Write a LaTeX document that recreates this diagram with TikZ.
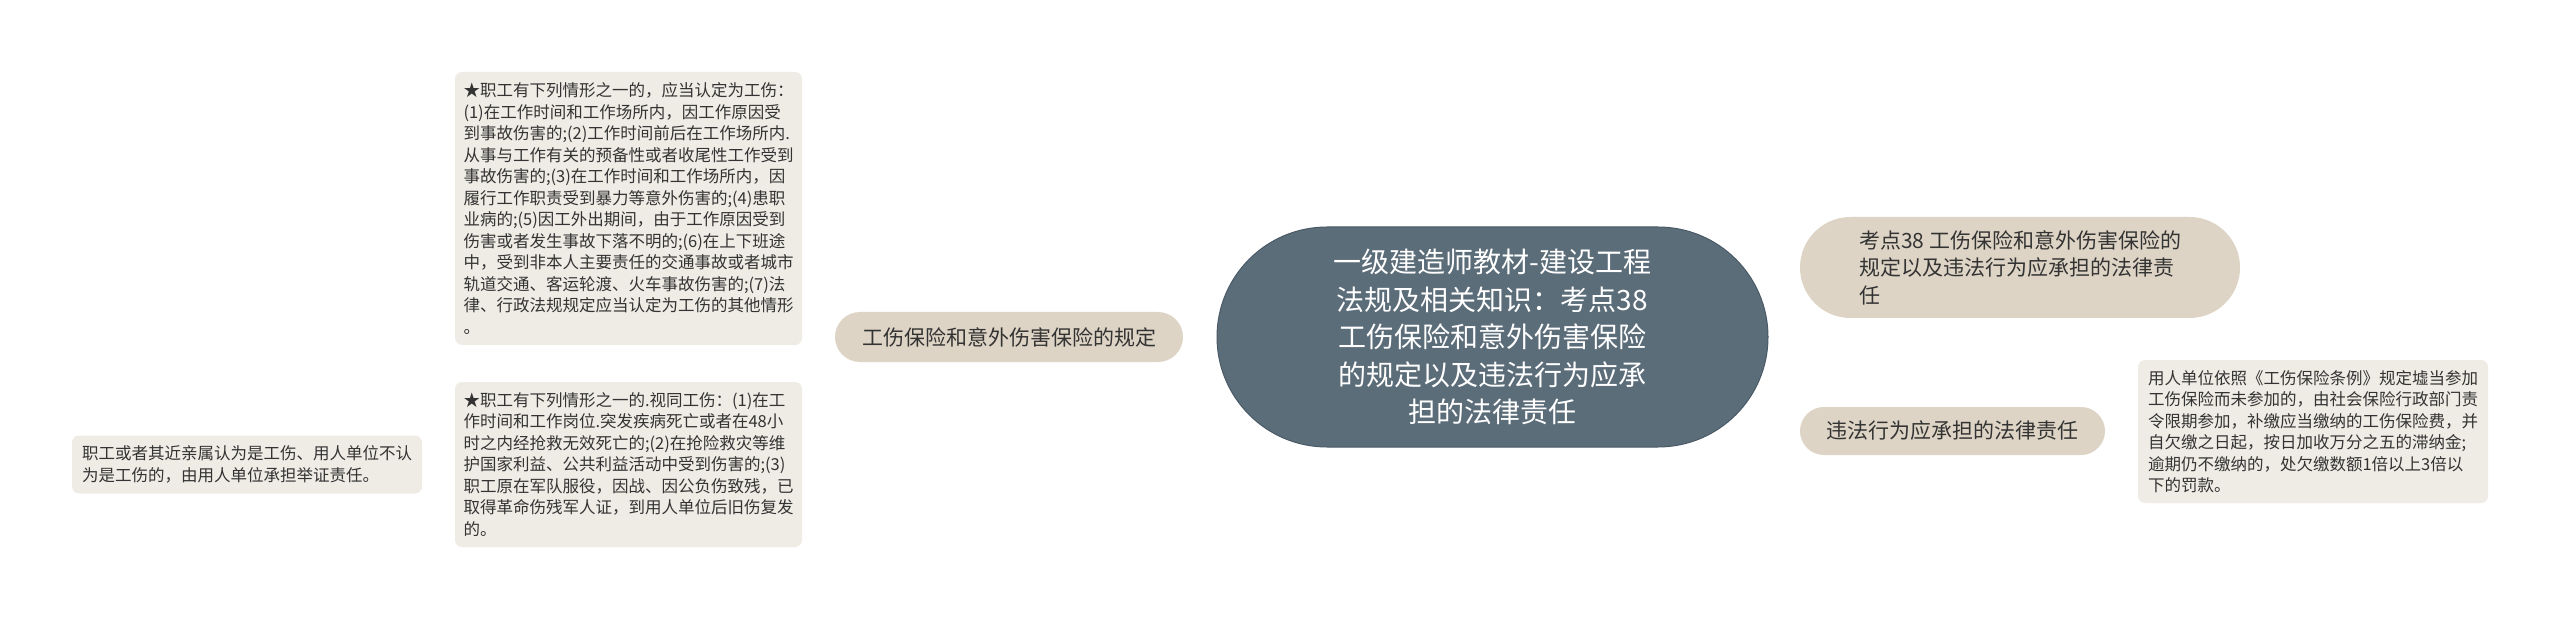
\documentclass[tikz,border=0pt]{standalone}
\usepackage{fontspec}
\setmainfont{Noto Sans CJK SC}
\usetikzlibrary{shapes.misc,backgrounds}
\definecolor{centc}{HTML}{5C6D7A}
\definecolor{centd}{HTML}{4A5966}
\definecolor{branchc}{HTML}{DDD4C5}
\definecolor{leafc}{HTML}{EFECE5}
\definecolor{linec}{HTML}{4E5D6A}
\definecolor{txt}{HTML}{333333}
\begin{document}
\begin{tikzpicture}[x=1pt,y=-1pt,
  leafbox/.style={fill=leafc, rounded corners=7pt, align=left, inner sep=0pt, text=txt,
    font=\fontsize{16.5pt}{21.5pt}\selectfont},
  branchbox/.style={rounded rectangle, fill=branchc, align=left, inner sep=0pt, text=txt,
    font=\fontsize{21pt}{27.5pt}\selectfont},
  centbox/.style={rounded rectangle, fill=centc, draw=centd, line width=1pt, align=center,
    inner sep=0pt, text=white, font=\fontsize{28pt}{37.5pt}\selectfont},
  conn/.style={draw=linec, line width=2.5pt},
  bconn/.style={draw=linec, line width=2.2pt}
]
\useasboundingbox (0,0) rectangle (2560,620);
\fill[white] (0,0) rectangle (2560,620);

\node[centbox, minimum width=551pt, minimum height=220pt] (c) at (1492.5,337)
 {一级建造师教材-建设工程\\法规及相关知识：考点38\\工伤保险和意外伤害保险\\的规定以及违法行为应承\\担的法律责任};

\node[branchbox, minimum width=348pt, minimum height=50pt] (bL) at (1009,337)
 {工伤保险和意外伤害保险的规定};

\node[branchbox, minimum width=440pt, minimum height=101pt] (b1) at (2020,267.5)
 {考点38 工伤保险和意外伤害保险的\\规定以及违法行为应承担的法律责\\任};

\node[branchbox, minimum width=305pt, minimum height=48pt] (b2) at (1952.5,431)
 {违法行为应承担的法律责任};

\node[leafbox, minimum width=347pt, minimum height=273pt] (l1) at (628.5,208.5)
 {★职工有下列情形之一的，应当认定为工伤：\\
(1)在工作时间和工作场所内，因工作原因受\\
到事故伤害的;(2)工作时间前后在工作场所内.\\
从事与工作有关的预备性或者收尾性工作受到\\
事故伤害的;(3)在工作时间和工作场所内，因\\
履行工作职责受到暴力等意外伤害的;(4)患职\\
业病的;(5)因工外出期间，由于工作原因受到\\
伤害或者发生事故下落不明的;(6)在上下班途\\
中，受到非本人主要责任的交通事故或者城市\\
轨道交通、客运轮渡、火车事故伤害的;(7)法\\
律、行政法规规定应当认定为工伤的其他情形\\
。};

\node[leafbox, minimum width=347pt, minimum height=165pt] (l2) at (628.5,464.5)
 {★职工有下列情形之一的.视同工伤：(1)在工\\
作时间和工作岗位.突发疾病死亡或者在48小\\
时之内经抢救无效死亡的;(2)在抢险救灾等维\\
护国家利益、公共利益活动中受到伤害的;(3)\\
职工原在军队服役，因战、因公负伤致残，已\\
取得革命伤残军人证，到用人单位后旧伤复发\\
的。};

\node[leafbox, minimum width=350pt, minimum height=58pt] (l3) at (247,464.5)
 {职工或者其近亲属认为是工伤、用人单位不认\\
为是工伤的，由用人单位承担举证责任。};

\node[leafbox, minimum width=350pt, minimum height=143pt] (r1) at (2313,431.5)
 {用人单位依照《工伤保险条例》规定墟当参加\\
工伤保险而未参加的，由社会保险行政部门责\\
令限期参加，补缴应当缴纳的工伤保险费，并\\
自欠缴之日起，按日加收万分之五的滞纳金;\\
逾期仍不缴纳的，处欠缴数额1倍以上3倍以\\
下的罚款。};

\begin{scope}[on background layer]
\draw[conn] (bL.east) -- (c.west);
\draw[conn] (c.center |- b1.west) -- (b1.west);
\draw[conn] (c.center |- b2.west) -- (b2.west);
\draw[conn] (b2.east) -- (r1.west);
\draw[conn] (l2.west) -- (l3.east);
\draw[bconn] (bL.west) -- ++(-16,0) coordinate (k);
\draw[bconn, line cap=round] (k) .. controls ++(0,-95) and ++(14,2) .. (l1.east);
\draw[bconn, line cap=round] (k) .. controls ++(0,95) and ++(14,-2) .. (l2.east);
\end{scope}
\end{tikzpicture}
\end{document}
